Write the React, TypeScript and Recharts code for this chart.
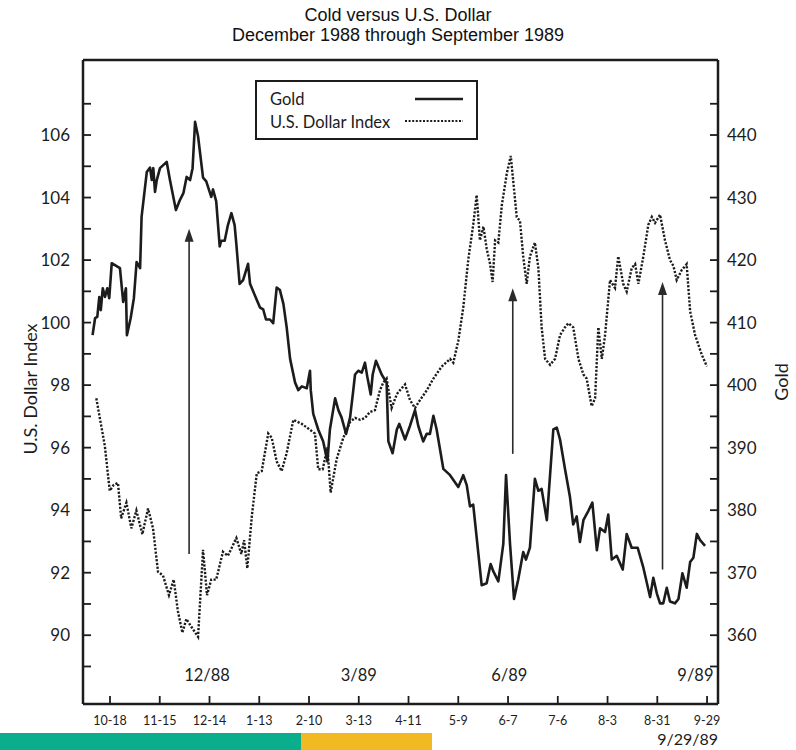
import React from 'react';
import { LineChart, Line, XAxis, YAxis, ReferenceLine, ReferenceDot } from 'recharts';

// x positions are trading days counted from 10-18-88 (tick every 20 trading days)
const xTickDays = [0, 20, 40, 60, 80, 100, 120, 140, 160, 180, 200, 220, 240];
const xTickLabels = ['10-18', '11-15', '12-14', '1-13', '2-10', '3-13', '4-11', '5-9', '6-7', '7-6', '8-3', '8-31', '9-29'];
const usdTicks = [89, 90, 91, 92, 93, 94, 95, 96, 97, 98, 99, 100, 101, 102, 103, 104, 105, 106, 107];
const goldTicks = [355, 360, 365, 370, 375, 380, 385, 390, 395, 400, 405, 410, 415, 420, 425, 430, 435, 440, 445];

// [trading day, gold price]
const goldSeries: [number, number][] = [
  [-7.0, 408.0], [-6.0, 410.7], [-5.1, 410.9], [-4.3, 414.1], [-3.7, 412.0], [-2.9, 415.5], [-2.0, 414.1], [-1.1, 415.5],
  [-0.3, 413.9], [0.7, 419.5], [2.0, 419.2], [4.0, 418.7], [5.3, 413.3], [6.4, 415.5], [6.8, 408.0], [8.3, 410.7],
  [9.6, 413.9], [10.7, 419.7], [12.1, 418.7], [12.7, 426.9], [14.8, 434.1], [16.1, 434.8], [16.8, 432.8], [17.4, 434.7],
  [18.1, 430.9], [18.8, 432.8], [20.1, 434.7], [22.8, 435.7], [24.1, 432.8], [26.5, 428.0], [28.1, 429.6], [29.5, 430.7],
  [30.8, 433.3], [32.2, 432.8], [33.2, 434.7], [34.2, 442.1], [35.4, 439.8], [37.4, 433.2], [38.7, 432.6], [40.7, 430.1],
  [41.4, 431.3], [42.7, 429.4], [44.1, 422.2], [44.7, 423.1], [46.1, 423.1], [47.4, 425.6], [48.8, 427.5], [50.1, 425.6],
  [50.8, 422.5], [52.1, 416.2], [53.5, 416.8], [55.5, 419.4], [56.3, 416.2], [58.3, 414.3], [60.3, 412.4], [61.6, 412.1],
  [62.7, 410.5], [64.3, 410.5], [65.6, 409.9], [67.0, 415.6], [68.3, 415.2], [69.7, 413.0], [71.0, 409.3], [72.4, 404.2],
  [74.4, 400.4], [75.7, 399.2], [77.1, 399.8], [79.1, 399.5], [80.4, 402.3], [80.7, 399.2], [81.7, 395.4], [83.7, 392.9],
  [85.7, 391.0], [87.4, 387.8], [88.4, 392.9], [90.5, 397.9], [91.8, 396.0], [93.1, 394.8], [94.9, 392.2], [96.5, 394.8],
  [97.8, 399.2], [98.5, 401.7], [99.8, 402.3], [101.2, 402.0], [102.5, 403.6], [103.4, 401.4], [104.8, 398.5], [105.6, 401.7],
  [106.9, 403.9], [109.2, 401.7], [111.2, 400.4], [111.9, 391.0], [113.6, 389.1], [115.3, 392.9], [116.3, 393.8], [118.6, 391.3],
  [120.6, 393.5], [122.6, 396.0], [123.9, 393.5], [125.9, 391.0], [127.3, 392.2], [128.6, 392.2], [130.0, 395.1], [131.3, 392.9],
  [134.0, 386.6], [136.7, 385.6], [140.0, 383.7], [142.0, 385.6], [143.4, 384.0], [144.7, 380.6], [146.0, 380.9], [149.4, 368.0],
  [151.4, 368.3], [153.0, 371.4], [154.1, 370.2], [156.1, 368.6], [158.1, 374.6], [159.2, 385.6], [160.8, 374.6], [162.4, 365.8],
  [164.1, 368.9], [166.1, 373.3], [167.2, 372.1], [168.8, 374.0], [170.8, 385.0], [172.2, 383.1], [173.5, 383.4], [175.6, 378.4],
  [178.2, 392.9], [179.6, 393.2], [180.9, 391.3], [182.9, 386.6], [184.9, 382.1], [186.2, 377.7], [187.6, 379.0], [188.9, 374.9],
  [190.3, 378.4], [192.3, 379.9], [193.9, 381.2], [195.7, 373.6], [197.0, 377.1], [199.0, 376.5], [200.3, 379.3], [201.7, 372.1],
  [203.7, 372.7], [206.1, 370.5], [207.7, 376.2], [209.7, 374.0], [212.1, 374.0], [214.4, 370.8], [217.1, 366.1], [218.4, 369.2],
  [219.8, 366.7], [221.1, 365.1], [222.4, 365.1], [223.8, 367.6], [225.1, 365.4], [227.1, 365.1], [228.5, 365.8], [230.1, 369.9],
  [231.8, 367.6], [233.2, 371.7], [234.5, 372.4], [235.9, 376.2], [237.2, 375.2], [239.2, 374.3],
];

// [trading day, U.S. Dollar Index]
const usdSeries: [number, number][] = [
  [-5.5, 97.58], [-4.1, 96.95], [-2.1, 96.07], [-0.1, 94.62], [1.5, 94.81], [3.2, 94.87], [4.5, 93.74], [6.6, 94.24],
  [8.6, 93.42], [10.6, 93.99], [13.0, 93.23], [15.3, 94.05], [17.3, 93.42], [19.3, 92.03], [21.3, 91.91], [23.7, 91.28],
  [25.6, 91.78], [27.3, 90.77], [29.1, 90.08], [30.7, 90.52], [32.7, 90.27], [35.4, 89.95], [37.4, 92.73], [39.0, 91.28],
  [40.7, 91.78], [42.7, 91.78], [45.4, 92.67], [47.4, 92.54], [50.8, 93.11], [52.8, 92.60], [53.9, 93.04], [55.2, 92.14],
  [57.0, 93.80], [59.0, 95.18], [61.0, 95.25], [63.6, 96.45], [65.0, 96.32], [67.0, 95.56], [69.0, 95.25], [71.0, 95.82],
  [73.7, 96.89], [77.1, 96.76], [80.4, 96.57], [82.4, 96.45], [83.7, 95.31], [85.5, 95.31], [87.4, 96.01], [88.7, 94.56],
  [91.1, 95.63], [93.8, 96.32], [96.5, 96.82], [98.5, 96.95], [100.5, 96.89], [102.5, 96.95], [104.5, 97.14], [106.5, 97.20],
  [108.5, 97.83], [109.9, 98.09], [111.2, 98.21], [113.2, 97.27], [115.3, 97.71], [116.6, 97.84], [118.6, 98.02], [120.6, 97.52],
  [122.6, 97.27], [124.6, 97.52], [127.3, 97.83], [130.0, 98.21], [133.3, 98.59], [136.7, 98.84], [138.0, 98.72], [140.0, 99.41],
  [142.0, 100.48], [144.0, 102.00], [146.0, 103.13], [147.4, 104.08], [148.7, 102.63], [150.1, 103.07], [151.4, 102.37], [152.8, 101.87],
  [153.8, 101.30], [154.8, 102.63], [156.1, 102.56], [157.5, 103.76], [159.5, 104.77], [161.1, 105.33], [162.1, 104.52], [163.5, 103.38],
  [164.8, 103.25], [166.1, 102.12], [167.5, 101.24], [168.8, 102.12], [170.8, 102.56], [172.2, 101.74], [173.5, 99.85], [174.9, 98.84],
  [176.9, 98.65], [178.9, 98.84], [180.9, 99.60], [182.9, 99.85], [184.2, 99.98], [186.2, 99.85], [188.3, 98.84], [190.3, 98.34],
  [191.6, 98.21], [193.6, 97.33], [195.0, 97.58], [196.3, 99.85], [197.7, 98.84], [199.0, 99.60], [201.0, 101.36], [203.0, 101.11],
  [204.3, 102.12], [206.3, 101.24], [207.7, 100.99], [209.7, 101.74], [211.1, 101.87], [212.4, 101.24], [214.4, 102.12], [216.4, 103.13],
  [217.8, 103.38], [219.1, 103.19], [221.1, 103.45], [223.1, 102.63], [225.1, 102.00], [226.5, 101.81], [227.8, 101.36], [229.8, 101.68],
  [231.8, 101.87], [233.2, 100.36], [235.2, 99.60], [237.9, 98.97], [239.9, 98.60],
];

// annotation arrows: [trading day, from (USD scale), to (USD scale)]
const arrows: [number, number, number][] = [
  [31.8, 92.6, 103.0],
  [161.9, 95.8, 101.1],
  [222.1, 92.1, 101.3],
];
// period labels: [trading day, label, anchor]
const periodLabels: [number, string, string][] = [
  [39, '12/88', 'middle'],
  [100, '3/89', 'middle'],
  [160.5, '6/89', 'middle'],
  [242.6, '9/89', 'end'],
];
const periodLabelLevel = 88.75;
const endDateLabel = '9/29/89';

const INK = '#1c1c1c';
const FONT = "Lato, 'Noto Sans', sans-serif";
const TITLE_FONT = "'Liberation Sans', Arial, sans-serif";

const goldData = goldSeries.map(([day, gold]) => ({ day, gold }));
const usdData = usdSeries.map(([day, usd]) => ({ day, usd }));

const LeftTick = (props: any) => {
  const { x, y, payload } = props;
  const v = payload.value;
  return (
    <g>
      <line x1={x} x2={x + 8} y1={y} y2={y} stroke={INK} strokeWidth={1.8} />
      {v % 2 === 0 && (
        <text x={x - 13} y={y} dy={6} textAnchor="end" fontSize={17} fill={INK} fontFamily={FONT}>
          {v}
        </text>
      )}
    </g>
  );
};

const RightTick = (props: any) => {
  const { x, y, payload } = props;
  const v = payload.value;
  return (
    <g>
      <line x1={x - 8} x2={x} y1={y} y2={y} stroke={INK} strokeWidth={1.8} />
      {v % 10 === 0 && (
        <text x={x + 9} y={y} dy={6} textAnchor="start" fontSize={17} fill={INK} fontFamily={FONT}>
          {v}
        </text>
      )}
    </g>
  );
};

const BottomTick = (props: any) => {
  const { x, y, payload } = props;
  const i = xTickDays.indexOf(payload.value);
  const isLast = i === xTickDays.length - 1;
  return (
    <g>
      <line x1={x} x2={x} y1={y} y2={y - 8} stroke={INK} strokeWidth={1.8} />
      <text x={x} y={y + 21} textAnchor="middle" fontSize={12.5} fill={INK} fontFamily={FONT}>
        {xTickLabels[i]}
      </text>
      {isLast && (
        <text x={x + 11} y={y + 41} textAnchor="end" fontSize={16} fill={INK} fontFamily={FONT}>
          {endDateLabel}
        </text>
      )}
    </g>
  );
};

const ArrowShape = (p: any) => {
  const { x1, y1, y2 } = p;
  const tip = Math.min(y1, y2);
  const base = Math.max(y1, y2);
  return (
    <g>
      <line x1={x1} x2={x1} y1={base} y2={tip + 10} stroke="#2a2a2a" strokeWidth={1.6} />
      <polygon points={`${x1},${tip} ${x1 - 4.5},${tip + 13} ${x1 + 4.5},${tip + 13}`} fill="#2a2a2a" />
    </g>
  );
};

const LeftTitle = () => (
  <text transform="translate(37, 389) rotate(-90)" textAnchor="middle" fontSize={18} fill={INK} fontFamily={FONT}>
    U.S. Dollar Index
  </text>
);
const RightTitle = () => (
  <text transform="translate(788, 382) rotate(-90)" textAnchor="middle" fontSize={18} fill={INK} fontFamily={FONT}>
    Gold
  </text>
);

const PeriodLabel = (text: string, anchor: string) => (props: any) => {
  const vb = props.viewBox || {};
  const cx = (vb.x ?? 0) + (vb.width ?? 0) / 2;
  const cy = (vb.y ?? 0) + (vb.height ?? 0) / 2;
  return (
    <text x={cx} y={cy + 7} textAnchor={anchor} fontSize={16.5} fill={INK} fontFamily={FONT}>
      {text}
    </text>
  );
};

export default function App() {
  return (
    <div style={{ position: 'absolute', left: 0, top: 0, width: 796, height: 750, background: '#fff' }}>
      <LineChart width={796} height={750} margin={{ top: 60, left: 23, right: 18, bottom: 16 }}>
        <XAxis
          dataKey="day"
          type="number"
          domain={[-10.85, 244.4]}
          allowDataOverflow
          ticks={xTickDays}
          interval={0}
          tick={<BottomTick />}
          tickSize={0}
          tickMargin={0}
          tickLine={false}
          height={30}
          axisLine={{ stroke: INK, strokeWidth: 2.5 }}
        />
        <YAxis
          yAxisId="usd"
          orientation="left"
          type="number"
          domain={[87.8, 108.4]}
          allowDataOverflow
          ticks={usdTicks}
          interval={0}
          tick={<LeftTick />}
          tickSize={0}
          tickMargin={0}
          tickLine={false}
          width={60}
          axisLine={{ stroke: INK, strokeWidth: 2.5 }}
          label={<LeftTitle />}
        />
        <YAxis
          yAxisId="gold"
          orientation="right"
          type="number"
          domain={[349, 452]}
          allowDataOverflow
          ticks={goldTicks}
          interval={0}
          tick={<RightTick />}
          tickSize={0}
          tickMargin={0}
          tickLine={false}
          width={60}
          axisLine={{ stroke: INK, strokeWidth: 2.5 }}
          label={<RightTitle />}
        />
        <ReferenceLine yAxisId="usd" y={108.4} stroke={INK} strokeWidth={2.5} ifOverflow="visible" />
        {arrows.map(([day, from, to], i) => (
          <ReferenceLine
            key={'arrow' + i}
            yAxisId="usd"
            segment={[{ x: day, y: from }, { x: day, y: to }]}
            shape={ArrowShape}
            ifOverflow="visible"
          />
        ))}
        {periodLabels.map(([day, text, anchor]) => (
          <ReferenceDot
            key={text}
            yAxisId="usd"
            x={day}
            y={periodLabelLevel}
            r={1}
            fill="none"
            stroke="none"
            label={PeriodLabel(text, anchor)}
          />
        ))}
        <Line
          yAxisId="usd"
          data={usdData}
          dataKey="usd"
          type="linear"
          stroke={INK}
          strokeWidth={2.4}
          strokeDasharray="2.2 1.6"
          dot={false}
          isAnimationActive={false}
        />
        <Line
          yAxisId="gold"
          data={goldData}
          dataKey="gold"
          type="linear"
          stroke={INK}
          strokeWidth={2.6}
          strokeLinejoin="round"
          dot={false}
          isAnimationActive={false}
        />
      </LineChart>
      <svg
        width={796}
        height={750}
        style={{ position: 'absolute', left: 0, top: 0, pointerEvents: 'none' }}
      >
        <text x={398} y={21} textAnchor="middle" fontSize={18} fill="#111" fontFamily={TITLE_FONT}>
          Cold versus U.S. Dollar
        </text>
        <text x={398} y={41} textAnchor="middle" fontSize={18} fill="#111" fontFamily={TITLE_FONT}>
          December 1988 through September 1989
        </text>
        <rect x={256} y={81} width={221} height={58} fill="#fff" stroke={INK} strokeWidth={2} />
        <text x={270} y={105} fontSize={16.5} fill={INK} fontFamily={FONT}>Gold</text>
        <line x1={415} x2={463} y1={99} y2={99} stroke={INK} strokeWidth={2.6} />
        <text x={270} y={128} fontSize={16.5} fill={INK} fontFamily={FONT}>U.S. Dollar Index</text>
        <line x1={405} x2={463} y1={121} y2={121} stroke={INK} strokeWidth={2.2} strokeDasharray="2 1.6" />
        <rect x={0} y={733} width={301} height={17} fill="#0aae8c" />
        <rect x={301} y={733} width={131} height={17} fill="#f2ba22" />
      </svg>
    </div>
  );
}
